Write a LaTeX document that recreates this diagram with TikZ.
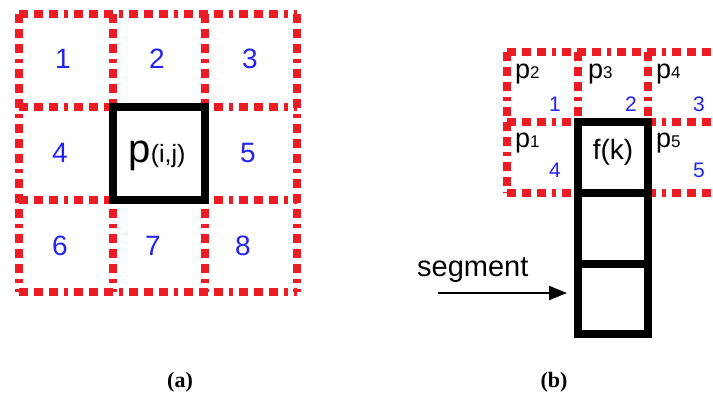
\documentclass[tikz,border=0pt]{standalone}
\usepackage{fontspec}
\setmainfont{Liberation Sans}
\newfontfamily\capfont{Liberation Serif}
\usetikzlibrary{arrows.meta}
\definecolor{gridred}{RGB}{237,28,36}
\definecolor{numblue}{RGB}{35,35,235}
\tikzset{
  redgrid/.style={draw=gridred, line width=8pt, dash pattern=on 9pt off 6pt on 9pt off 6pt on 9pt off 6pt on 4pt off 6pt},
  blackcell/.style={draw=black, line width=7.5pt},
  numlbl/.style={text=numblue, font=\fontsize{28}{30}\selectfont, inner sep=0pt},
  smallnum/.style={text=numblue, font=\fontsize{21}{23}\selectfont, inner sep=0pt},
  plbl/.style={font=\fontsize{27}{29}\selectfont, inner sep=0pt},
  caplbl/.style={font=\capfont\bfseries\fontsize{22}{24}\selectfont, inner sep=0pt},
}
\newcommand{\subd}[1]{{\fontsize{17}{18}\selectfont #1}}
\begin{document}
\begin{tikzpicture}[x=1pt,y=-1pt]
\useasboundingbox (0,0) rectangle (713,403);
\fill[white] (0,0) rectangle (713,403);

% ---- (a): 3x3 neighbourhood ----
\foreach \x in {19,113,205,297} \draw[redgrid] (\x,14) -- (\x,292);
\foreach \y in {14,107,200,292} \draw[redgrid] (19,\y) -- (297,\y);
\draw[blackcell] (113,107) rectangle (205,200);

\node[numlbl] (n1) at (63,59) {1};
\node[numlbl] (n2) at (157,59) {2};
\node[numlbl] (n3) at (250,59) {3};
\node[numlbl] (n4) at (60,153) {4};
\node[numlbl] (n5) at (248,153) {5};
\node[numlbl] (n6) at (60,246) {6};
\node[numlbl] (n7) at (153,246) {7};
\node[numlbl] (n8) at (243,246) {8};
\node[inner sep=0pt, anchor=base] (pij) at (157,163)
  {\fontsize{40}{42}\selectfont p\fontsize{25}{27}\selectfont(i,j)};

% ---- (b): segment with its neighbours ----
\begin{scope}
\clip (0,0) rectangle (713,403);
\foreach \x in {507,578,648,718} \draw[redgrid] (\x,52) -- (\x,193);
\foreach \y in {52,122,193} \draw[redgrid] (507,\y) -- (722,\y);
\end{scope}

\draw[blackcell] (578,122) rectangle (648,193);
\draw[blackcell] (578,193) rectangle (648,264);
\node[draw=black, line width=7.5pt, minimum width=70pt, minimum height=70pt, inner sep=0pt] (seg) at (613,299) {};

\node[plbl, anchor=base west] (p2) at (515,79) {p\subd{2}};
\node[plbl, anchor=base west] (p3) at (588,79) {p\subd{3}};
\node[plbl, anchor=base west] (p4) at (656,79) {p\subd{4}};
\node[plbl, anchor=base west] (p1) at (515,148) {p\subd{1}};
\node[plbl, anchor=base west] (p5) at (656,148) {p\subd{5}};

\node[smallnum, anchor=base east] (m1) at (561,112) {1};
\node[smallnum, anchor=base east] (m2) at (637,112) {2};
\node[smallnum, anchor=base east] (m3) at (705,112) {3};
\node[smallnum, anchor=base east] (m4) at (561,178) {4};
\node[smallnum, anchor=base east] (m5) at (705,178) {5};

\node[inner sep=0pt, font=\fontsize{28}{30}\selectfont] (fk) at (613,152) {f(k)};

\node[inner sep=0pt, anchor=base west, font=\fontsize{29}{31}\selectfont] (segtxt) at (417,277) {segment};
\coordinate (arrstart) at (438,293);
\coordinate (arrend) at (567,293);
\draw[line width=2pt, -{Triangle[length=18pt,width=14pt]}] (arrstart) -- (arrend);

% ---- captions ----
\node[caplbl] (capa) at (180,382) {(a)};
\node[caplbl] (capb) at (554,382) {(b)};
\end{tikzpicture}
\end{document}
